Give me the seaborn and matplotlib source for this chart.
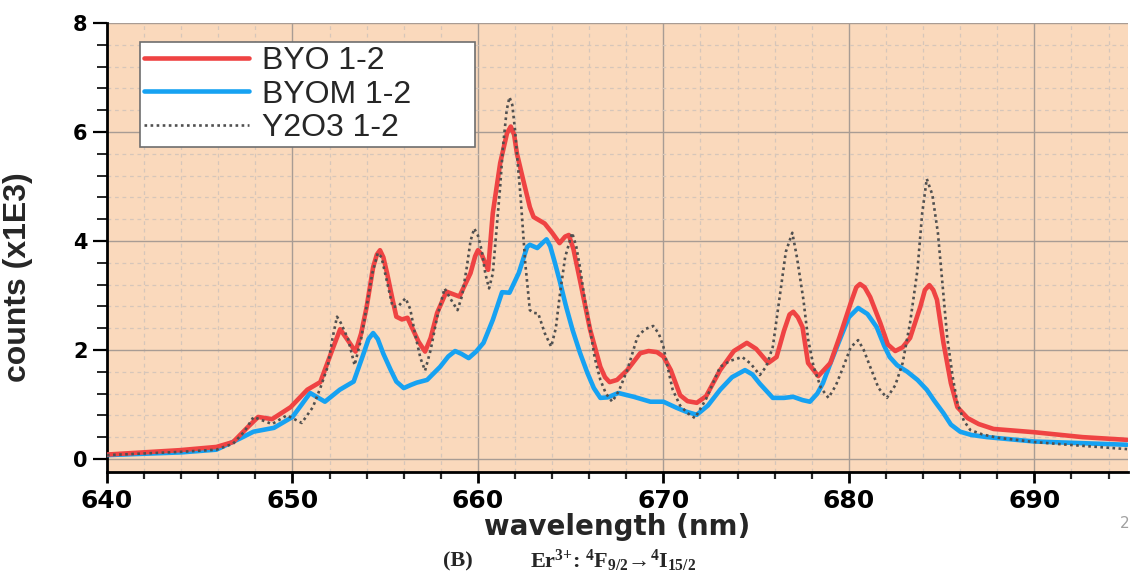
import matplotlib
matplotlib.use("Agg")
import matplotlib.pyplot as plt
from matplotlib.ticker import MultipleLocator
import seaborn as sns
import pandas as pd

# ---------------- data (counts in units of 1E3) ----------------
wl_byo = [640, 643.9, 645.9, 646.8, 647.55, 648.15, 648.9, 649.9, 650.8, 651.5, 652.2,
          652.57, 652.9, 653.4, 653.7, 654.0, 654.35, 654.55, 654.72, 654.9, 655.1, 655.4,
          655.6, 655.9, 656.2, 656.5, 656.8, 657.15, 657.45, 657.8, 658.3, 659.0, 659.6,
          659.85, 660.0, 660.2, 660.55, 660.8, 661.2, 661.57, 661.77, 661.95, 662.1, 662.44,
          662.8, 663.0, 663.3, 663.6, 664.0, 664.4, 664.7, 664.9, 665.15, 665.5, 666.05,
          666.6, 666.85, 667.1, 667.5, 668.05, 668.75, 669.2, 669.65, 670.0, 670.4, 670.9,
          671.3, 671.8, 672.3, 673.06, 673.8, 674.5, 675.0, 675.65, 676.1, 676.5, 676.8,
          677.0, 677.25, 677.5, 677.8, 678.35, 679.0, 679.5, 680.1, 680.4, 680.6, 680.85,
          681.15, 681.7, 682.1, 682.5, 682.9, 683.3, 683.85, 684.1, 684.34, 684.55, 684.75,
          685.1, 685.5, 685.85, 686.4, 687.0, 687.8, 690.0, 692.6, 695.0]
byo = [0.08, 0.16, 0.22, 0.31, 0.57, 0.77, 0.73, 0.95, 1.27, 1.41, 2.05,
       2.38, 2.22, 1.97, 2.30, 2.79, 3.52, 3.75, 3.83, 3.70, 3.41, 2.92,
       2.61, 2.56, 2.59, 2.37, 2.15, 1.97, 2.22, 2.68, 3.07, 2.98, 3.41,
       3.72, 3.83, 3.75, 3.47, 4.51, 5.43, 5.98, 6.10, 5.95, 5.61, 5.12,
       4.62, 4.44, 4.38, 4.32, 4.15, 3.96, 4.08, 4.11, 3.85, 3.28, 2.37,
       1.69, 1.50, 1.41, 1.45, 1.63, 1.94, 1.98, 1.96, 1.88, 1.63, 1.17,
       1.06, 1.03, 1.15, 1.63, 1.98, 2.13, 2.02, 1.76, 1.87, 2.35, 2.65,
       2.70, 2.60, 2.42, 1.76, 1.52, 1.76, 2.24, 2.86, 3.15, 3.21, 3.15,
       2.97, 2.49, 2.10, 1.98, 2.05, 2.22, 2.79, 3.10, 3.19, 3.10, 2.92,
       2.13, 1.39, 0.95, 0.75, 0.64, 0.55, 0.49, 0.40, 0.35]

wl_byom = [640, 644, 645.9, 647.2, 647.9, 649.0, 650.0, 650.5, 650.95, 651.4, 651.75,
           652.55, 653.3, 653.8, 654.1, 654.35, 654.6, 654.9, 655.3, 655.6, 656.0, 656.4,
           656.7, 657.26, 657.96, 658.4, 658.77, 659.1, 659.5, 659.9, 660.3, 660.8, 661.3,
           661.7, 662.2, 662.65, 662.8, 663.2, 663.5, 663.7, 663.9, 664.15, 664.4, 664.75,
           665.1, 665.5, 665.9, 666.25, 666.6, 667.0, 667.57, 668.4, 669.3, 670.0, 670.7,
           671.2, 671.8, 672.4, 673.06, 673.7, 674.4, 674.8, 675.2, 675.9, 676.5, 677.0,
           677.5, 677.9, 678.3, 678.6, 679.0, 679.5, 680.0, 680.5, 681.0, 681.5, 681.9,
           682.2, 682.6, 683.15, 683.7, 684.2, 684.6, 685.1, 685.5, 686.0, 686.6, 687.45,
           690.0, 695.0]
byom = [0.07, 0.12, 0.17, 0.38, 0.50, 0.57, 0.77, 1.00, 1.21, 1.12, 1.05,
        1.27, 1.42, 1.90, 2.20, 2.31, 2.20, 1.93, 1.63, 1.42, 1.30, 1.36,
        1.40, 1.45, 1.69, 1.88, 1.98, 1.93, 1.85, 1.97, 2.13, 2.55, 3.06,
        3.05, 3.41, 3.89, 3.93, 3.87, 3.97, 4.03, 3.90, 3.60, 3.28, 2.80,
        2.37, 1.95, 1.58, 1.30, 1.12, 1.13, 1.21, 1.14, 1.05, 1.05, 0.94,
        0.87, 0.81, 0.98, 1.27, 1.50, 1.63, 1.55, 1.38, 1.12, 1.12, 1.14,
        1.08, 1.05, 1.20, 1.39, 1.75, 2.18, 2.60, 2.77, 2.66, 2.42, 2.08,
        1.87, 1.72, 1.60, 1.45, 1.27, 1.07, 0.84, 0.63, 0.50, 0.44, 0.40,
        0.32, 0.26]

wl_y2o3 = [640, 644, 645.9, 646.8, 647.4, 647.9, 648.9, 649.7, 650.5, 651.1, 651.5,
           651.9, 652.15, 652.4, 652.6, 653.0, 653.35, 653.7, 654.0, 654.3, 654.6, 654.8,
           655.0, 655.4, 655.7, 656.1, 656.35, 656.6, 656.9, 657.15, 657.45, 657.8, 658.2,
           658.5, 658.9, 659.15, 659.4, 659.6, 659.8, 660.0, 660.2, 660.4, 660.6, 660.8,
           661.0, 661.2, 661.35, 661.55, 661.7, 661.85, 662.0, 662.15, 662.3, 662.55, 662.8,
           663.0, 663.25, 663.6, 663.95, 664.2, 664.4, 664.7, 665.08, 665.3, 665.5, 665.75,
           666.05, 666.3, 666.6, 666.9, 667.24, 667.6, 668.05, 668.6, 669.0, 669.45, 669.75,
           670.0, 670.25, 670.5, 670.9, 671.3, 671.7, 672.3, 673.06, 673.6, 674.25, 674.7,
           675.2, 675.55, 675.9, 676.3, 676.6, 676.95, 677.2, 677.55, 677.8, 678.1, 678.5,
           678.9, 679.3, 679.7, 680.1, 680.5, 680.8, 681.15, 681.6, 682.05, 682.5, 682.9,
           683.3, 683.7, 683.95, 684.2, 684.5, 684.8, 685.05, 685.3, 685.6, 685.85, 686.2,
           686.55, 687.2, 688.0, 690.0, 691.8, 695.0]
y2o3 = [0.07, 0.13, 0.17, 0.28, 0.50, 0.77, 0.64, 0.80, 0.66, 0.95, 1.30,
        1.69, 2.20, 2.61, 2.50, 2.20, 1.72, 2.20, 2.80, 3.40, 3.78, 3.70,
        3.40, 2.79, 2.80, 2.95, 2.75, 2.31, 1.85, 1.62, 2.00, 2.60, 3.13,
        2.95, 2.73, 3.00, 3.52, 4.00, 4.23, 4.10, 3.83, 3.40, 3.13, 3.40,
        4.20, 5.00, 5.73, 6.40, 6.64, 6.50, 6.04, 5.40, 4.81, 3.60, 2.73,
        2.68, 2.67, 2.31, 2.06, 2.40, 2.97, 3.70, 4.15, 3.90, 3.52, 2.95,
        2.37, 1.85, 1.45, 1.20, 1.05, 1.25, 1.63, 2.24, 2.38, 2.44, 2.30,
        2.06, 1.65, 1.27, 0.98, 0.84, 0.75, 1.10, 1.69, 1.80, 1.87, 1.75,
        1.54, 1.70, 2.06, 3.05, 3.80, 4.15, 3.70, 2.92, 2.20, 1.69, 1.30,
        1.12, 1.35, 1.69, 2.05, 2.18, 2.00, 1.69, 1.30, 1.12, 1.35, 1.76,
        2.50, 3.47, 4.50, 5.14, 4.85, 4.15, 3.20, 2.24, 1.50, 1.03, 0.70,
        0.53, 0.45, 0.39, 0.31, 0.26, 0.18]

series_names = ["BYO 1-2", "BYOM 1-2", "Y2O3 1-2"]
x_ticks = [640, 650, 660, 670, 680, 690]
y_ticks = [0, 2, 4, 6, 8]

df = pd.concat([
    pd.DataFrame({"wavelength": wl_byo, "counts": byo, "sample": series_names[0]}),
    pd.DataFrame({"wavelength": wl_byom, "counts": byom, "sample": series_names[1]}),
    pd.DataFrame({"wavelength": wl_y2o3, "counts": y2o3, "sample": series_names[2]}),
], ignore_index=True)

# ---------------- style ----------------
sns.set_theme(style="ticks")
plt.rcParams["font.family"] = ["DejaVu Sans"]
plt.rcParams["mathtext.fontset"] = "custom"
plt.rcParams["mathtext.rm"] = "Liberation Serif:bold"
plt.rcParams["mathtext.bf"] = "Liberation Serif:bold"
plt.rcParams["mathtext.default"] = "regular"

fig = plt.figure(figsize=(11.37, 5.75), dpi=100)
fig.patch.set_facecolor("white")
ax = fig.add_axes([107 / 1137, 1 - 472 / 575, (1128 - 107) / 1137, (472 - 23) / 575])
ax.set_facecolor("#FAD9BC")

palette = {series_names[0]: "#EF4343", series_names[1]: "#16A2F2", series_names[2]: "#505050"}
styles = {series_names[0]: dict(lw=3.3, ls="-"),
          series_names[1]: dict(lw=3.3, ls="-"),
          series_names[2]: dict(lw=1.9, ls=(0, (1, 1.3)))}
order = [series_names[2], series_names[1], series_names[0]]
for name in order:
    sub = df[df["sample"] == name]
    sns.lineplot(data=sub, x="wavelength", y="counts", ax=ax, color=palette[name],
                 linewidth=styles[name]["lw"], linestyle=styles[name]["ls"],
                 label=name, sort=False, estimator=None,
                 solid_joinstyle="round", dash_joinstyle="round",
                 zorder=3 if name != series_names[2] else 4)

ax.set_xlim(640, 695.05)
ax.set_ylim(-0.24, 8)
ax.set_xticks(x_ticks)
ax.set_yticks(y_ticks)
ax.xaxis.set_minor_locator(MultipleLocator(2))
ax.yaxis.set_minor_locator(MultipleLocator(0.4))

ax.grid(which="major", color="#A89C94", lw=1.0, ls="-", zorder=1)
ax.grid(which="minor", color="#D6C6BA", lw=0.9, ls=(0, (3, 3)), zorder=1)
ax.set_axisbelow(True)

for s in ["top", "right"]:
    ax.spines[s].set_visible(False)
for s in ["left", "bottom"]:
    ax.spines[s].set_linewidth(2)
    ax.spines[s].set_color("black")

ax.tick_params(axis="x", which="major", length=8, width=2, direction="out", pad=4,
               labelsize=18, colors="black")
ax.tick_params(axis="x", which="minor", length=5, width=1.6, direction="out")
ax.tick_params(axis="y", which="major", length=10, width=1.6, direction="out", pad=4,
               labelsize=15, colors="black")
ax.tick_params(axis="y", which="minor", length=7, width=1.4, direction="out")
for lab in ax.get_xticklabels() + ax.get_yticklabels():
    lab.set_fontweight("bold")

ax.set_xlabel("wavelength (nm)", fontsize=20, fontweight="bold", labelpad=0)
ax.set_ylabel("counts (x1E3)", fontsize=23, fontweight="bold", family=["Liberation Sans"])
ax.yaxis.set_label_coords((33 - 107) / 1021, (472 - 277) / 449)

# legend in original order
handles, labels = ax.get_legend_handles_labels()
hmap = dict(zip(labels, handles))
leg = ax.legend([hmap[n] for n in series_names], series_names,
                loc="upper left", bbox_to_anchor=(33 / 1021, (472 - 42) / 449, 335 / 1021, 0),
                mode="expand", borderaxespad=0, borderpad=0.12, frameon=True, fancybox=False,
                framealpha=1, edgecolor="#6E6E6E", facecolor="white",
                prop={"family": "Liberation Sans", "size": 23},
                handlelength=3.3, handletextpad=0.4, labelspacing=0.12)
leg.get_frame().set_linewidth(1.2)
leg.set_zorder(10)

# caption below the chart
fig.text(443 / 1137, 1 - 561 / 575, "(B)", fontsize=16, fontweight="bold",
         family=["Liberation Serif"], va="center", ha="left")
fig.text(530 / 1137, 1 - 561 / 575, r"Er$^{3{+}}$: $^{4}$F$_{9/2}$→$^{4}$I$_{15/2}$",
         fontsize=16, fontweight="bold", family=["Liberation Serif", "DejaVu Serif"],
         va="center", ha="left")
fig.text(1125 / 1137, 1 - 523 / 575, "2", fontsize=11, color="#A0A0A0",
         va="center", ha="center")

fig.savefig("out.png", dpi=100)
